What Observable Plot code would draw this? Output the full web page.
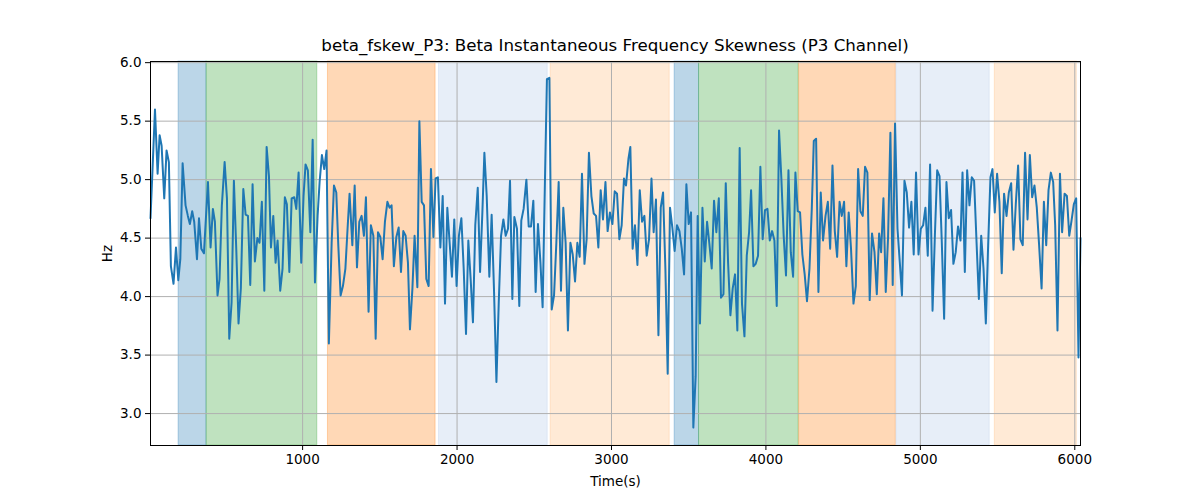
<!DOCTYPE html>
<html>
<head>
<meta charset="utf-8">
<script src="https://cdn.jsdelivr.net/npm/d3@7"></script>
<script src="https://cdn.jsdelivr.net/npm/@observablehq/plot@0.6"></script>
<style>
  html, body { margin: 0; padding: 0; background: #fff; }
  #wrap { width: 1200px; height: 500px; position: relative; font-family: "DejaVu Sans", sans-serif; }
  #title { position: absolute; left: 150px; width: 930px; top: 35px; text-align: center; font-size: 16.7px; line-height: 20px; color: #000; }
  #chart { position: absolute; left: 0; top: 40px; }
</style>
</head>
<body>
<div id="wrap">
  <div id="chart"></div>
  <div id="title">beta_fskew_P3: Beta Instantaneous Frequency Skewness (P3 Channel)</div>
</div>
<script>
const titleText = "beta_fskew_P3: Beta Instantaneous Frequency Skewness (P3 Channel)";
const xLabel = "Time(s)";
const yLabel = "Hz";
const xTicks = [1000, 2000, 3000, 4000, 5000, 6000];
const yTicks = [3.0, 3.5, 4.0, 4.5, 5.0, 5.5, 6.0];

const time = [15,44,61,74,87,104,119,134,147,164,180,195,208,223,242,257,270,285,298,316,329,344,361,387,404,419,432,449,462,477,495,510,525,540,555,571,585,600,616,631,646,661,676,691,707,721,736,752,767,782,795,810,825,838,855,870,885,898,914,929,946,959,974,991,1006,1019,1034,1050,1065,1080,1097,1110,1125,1140,1155,1170,1188,1203,1218,1231,1246,1261,1277,1291,1304,1322,1337,1352,1367,1382,1397,1410,1427,1442,1458,1473,1488,1503,1518,1533,1549,1563,1576,1591,1607,1622,1637,1652,1667,1682,1695,1711,1725,1743,1756,1771,1786,1801,1816,1831,1847,1861,1876,1892,1907,1922,1937,1952,1967,1982,1997,2012,2028,2043,2058,2073,2088,2103,2118,2134,2149,2164,2177,2192,2209,2224,2239,2255,2270,2285,2300,2315,2330,2343,2358,2371,2388,2403,2416,2431,2449,2464,2479,2494,2509,2524,2540,2554,2569,2582,2598,2613,2628,2643,2658,2673,2688,2703,2718,2734,2749,2764,2779,2794,2809,2825,2839,2854,2870,2885,2900,2915,2930,2945,2961,2975,2990,3006,3021,3036,3051,3066,3081,3094,3110,3122,3137,3152,3168,3183,3198,3213,3228,3243,3259,3273,3288,3304,3319,3334,3349,3364,3379,3394,3409,3424,3440,3455,3470,3485,3500,3515,3530,3545,3558,3573,3589,3604,3619,3634,3649,3664,3679,3695,3709,3725,3740,3755,3770,3785,3800,3815,3830,3845,3861,3876,3891,3904,3919,3934,3949,3964,3979,3994,4010,4025,4040,4055,4070,4085,4100,4115,4130,4146,4161,4176,4191,4206,4221,4236,4251,4266,4282,4297,4310,4325,4340,4355,4370,4386,4401,4416,4431,4446,4461,4477,4491,4506,4521,4536,4551,4567,4582,4597,4612,4627,4642,4657,4672,4687,4703,4718,4733,4746,4761,4776,4791,4806,4821,4836,4852,4867,4881,4897,4912,4927,4942,4957,4972,4988,5003,5018,5033,5048,5063,5079,5094,5109,5124,5139,5154,5169,5184,5199,5214,5229,5244,5260,5273,5288,5303,5318,5333,5348,5364,5379,5394,5409,5424,5439,5454,5467,5482,5497,5512,5527,5542,5558,5573,5588,5603,5618,5633,5648,5663,5678,5694,5709,5724,5739,5754,5769,5785,5800,5815,5830,5845,5860,5873,5888,5904,5918,5934,5949,5964,5979,5994,6009,6024,6037];

const hz = [4.67,5.60,5.05,5.38,5.29,4.84,5.25,5.15,4.26,4.11,4.42,4.14,4.32,5.14,4.78,4.69,4.62,4.73,4.64,4.32,4.67,4.41,4.37,4.98,4.42,4.75,4.64,4.01,4.15,4.78,5.15,4.84,3.64,3.95,4.99,4.38,3.77,4.07,4.92,4.70,4.69,4.10,4.96,4.30,4.50,4.46,4.81,4.05,5.28,5.03,4.42,4.69,4.29,4.48,4.05,4.24,4.85,4.79,4.21,4.84,4.85,4.75,5.06,4.29,4.86,5.13,5.08,4.55,5.34,4.12,4.69,4.98,5.21,5.09,5.25,3.60,4.46,4.95,4.89,4.44,4.01,4.09,4.24,4.58,4.88,4.44,4.95,4.25,4.64,4.69,4.52,4.85,3.87,4.61,4.52,3.64,4.55,4.51,4.32,4.64,4.81,4.76,4.78,4.26,4.51,4.59,4.21,4.56,4.52,4.29,3.72,4.07,4.52,4.08,5.50,4.81,4.78,4.15,4.09,5.09,4.51,5.01,5.02,4.42,4.86,3.94,4.76,4.46,4.17,4.66,4.09,4.52,4.67,4.24,3.68,4.48,4.15,3.78,4.61,4.93,4.21,4.72,5.23,4.86,4.17,4.70,4.07,3.27,3.95,4.52,4.66,4.52,4.58,4.99,3.98,4.68,4.58,3.92,4.65,4.75,5.00,4.60,4.60,4.82,4.04,4.62,4.29,3.91,4.98,5.86,5.87,3.89,4.01,4.46,4.98,4.05,4.76,4.46,3.71,4.46,4.36,4.13,4.46,4.34,5.05,4.28,4.49,5.23,4.86,4.71,4.69,4.42,4.91,4.66,4.98,4.56,4.72,4.62,4.90,4.88,4.49,4.61,5.01,4.95,5.18,5.28,4.41,4.61,4.27,4.91,4.64,4.69,4.35,4.49,5.01,4.55,4.83,3.67,4.76,4.89,4.24,3.34,4.76,4.59,4.39,4.61,4.56,4.41,4.19,4.96,4.62,4.72,2.88,3.32,4.69,3.77,4.76,4.30,4.64,4.45,4.24,4.82,4.55,4.84,3.99,4.02,4.97,4.29,3.84,4.07,4.19,3.71,5.27,3.94,3.66,4.35,4.55,4.91,4.26,4.28,4.35,5.11,4.49,4.74,4.75,4.48,4.56,4.48,3.92,5.42,5.01,4.52,4.18,5.08,4.38,4.17,5.06,4.73,4.72,4.36,4.19,3.96,4.24,4.75,5.33,5.35,4.04,4.89,4.48,4.69,4.81,4.41,5.12,4.56,4.34,4.81,4.69,4.81,4.26,4.72,4.41,3.94,4.09,5.09,4.73,4.69,5.11,5.06,3.97,4.54,4.38,4.02,4.54,4.38,4.84,4.04,4.51,5.40,4.10,5.48,4.58,4.29,4.01,4.99,4.89,4.59,4.81,4.36,5.06,4.36,4.58,4.61,4.76,4.35,5.13,3.88,4.52,5.08,5.03,4.46,3.81,4.98,4.67,4.74,4.28,4.38,4.60,4.48,5.06,4.21,5.08,4.78,5.02,4.99,4.46,3.98,4.52,4.24,3.77,4.44,5.02,5.09,4.72,5.05,4.81,4.20,4.88,4.69,4.89,4.97,4.40,4.79,5.12,4.49,4.44,5.23,4.66,5.21,4.85,4.95,4.76,4.44,4.07,4.81,4.44,4.91,5.06,4.98,4.61,3.71,5.05,4.55,4.88,4.86,4.52,4.65,4.79,4.84,3.48,4.50];

// Shaded segments
const bandStart = [197, 378, 1164, 1883, 2606, 3409, 3567, 4215, 4845, 5482];
const bandEnd   = [378, 1095, 1861, 2587, 3377, 3567, 4212, 4841, 5449, 6013];
const bandColor = ["#1f77b4", "#2ca02c", "#ff7f0e", "#aec7e8", "#ffbb78", "#1f77b4", "#2ca02c", "#ff7f0e", "#aec7e8", "#ffbb78"];

const series = time.map((t, i) => ({t, v: hz[i]}));
const bands = bandStart.map((s, i) => ({x1: s, x2: bandEnd[i], c: bandColor[i]}));

const chart = Plot.plot({
  width: 1200,
  height: 460,
  marginLeft: 150,
  marginRight: 120,
  marginTop: 21,
  marginBottom: 55,
  style: {fontFamily: "DejaVu Sans, sans-serif", fontSize: "13.5px", color: "#000", background: "transparent"},
  x: {domain: [15, 6037]},
  y: {domain: [2.727, 6.01]},
  marks: [
    Plot.rect(bands, {x1: "x1", x2: "x2", fill: "c", fillOpacity: 0.3, stroke: "c", strokeOpacity: 0.3, strokeWidth: 1}),
    Plot.gridX(xTicks, {stroke: "#b0b0b0", strokeOpacity: 1, strokeWidth: 1}),
    Plot.gridY(yTicks, {stroke: "#b0b0b0", strokeOpacity: 1, strokeWidth: 1}),
    Plot.line(series, {x: "t", y: "v", stroke: "#1f77b4", strokeWidth: 2}),
    Plot.axisX(xTicks, {tickSize: 5, tickPadding: 4, tickFormat: d3.format("d"), label: xLabel, labelAnchor: "center", labelArrow: "none", labelOffset: 40, fontSize: "13.5px"}),
    Plot.axisY(yTicks, {tickSize: 5, tickPadding: 4, tickFormat: d3.format(".1f"), label: yLabel, labelAnchor: "center", labelArrow: "none", labelOffset: 48, fontSize: "13.5px"}),
    Plot.frame({stroke: "#000", strokeWidth: 1})
  ]
});
document.getElementById("chart").appendChild(chart);
</script>
</body>
</html>
